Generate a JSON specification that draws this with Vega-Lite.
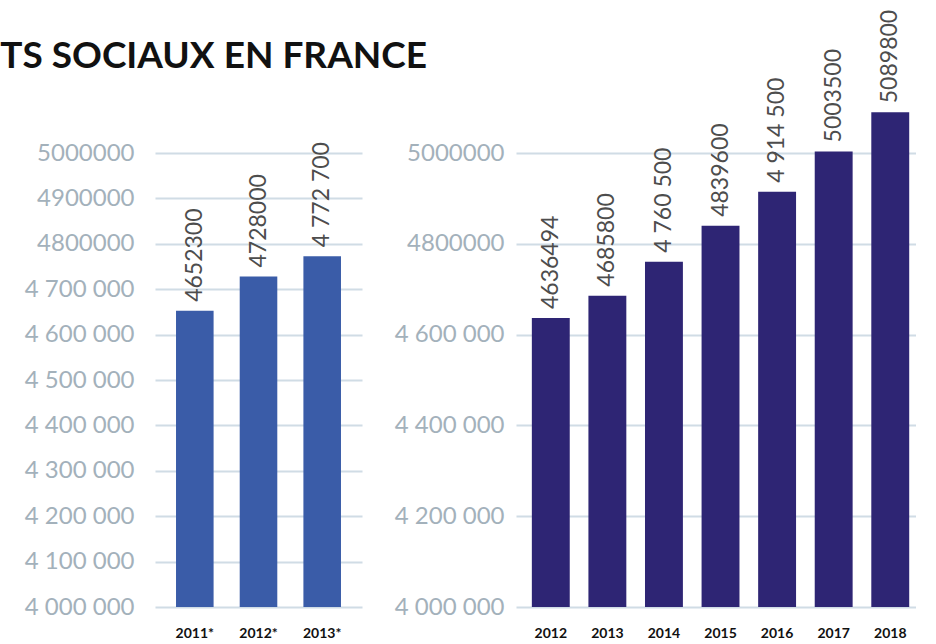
{
  "$schema": "https://vega.github.io/schema/vega-lite/v6.json",
  "background": "white",
  "padding": {"left": 0, "top": 9, "right": 0, "bottom": 0},
  "title": {
    "text": "TS SOCIAUX EN FRANCE",
    "anchor": "start",
    "font": "Lato",
    "fontSize": 37,
    "fontWeight": "bold",
    "color": "#111111",
    "dx": -24,
    "dy": 66,
    "offset": 0
  },
  "datasets": {
    "left": [
      {"year": "2011*", "value": 4652300, "label": "4652300"},
      {"year": "2012*", "value": 4728000, "label": "4728000"},
      {"year": "2013*", "value": 4772700, "label": "4 772 700"}
    ],
    "right": [
      {"year": "2012", "value": 4636494, "label": "4636494"},
      {"year": "2013", "value": 4685800, "label": "4685800"},
      {"year": "2014", "value": 4760500, "label": "4 760 500"},
      {"year": "2015", "value": 4839600, "label": "4839600"},
      {"year": "2016", "value": 4914500, "label": "4 914 500"},
      {"year": "2017", "value": 5003500, "label": "5003500"},
      {"year": "2018", "value": 5089800, "label": "5089800"}
    ]
  },
  "spacing": 154,
  "bounds": "flush",
  "config": {
    "view": {"stroke": null},
    "axis": {
      "domain": false,
      "ticks": false,
      "title": null
    },
    "axisX": {
      "labelFont": "Lato",
      "labelFontWeight": "bold",
      "labelFontSize": 14,
      "labelColor": "#111111",
      "labelPadding": 19,
      "labelAngle": 0,
      "grid": false
    },
    "axisY": {
      "labelFont": "Lato",
      "labelFontSize": 24,
      "labelColor": "#a3b1bb",
      "grid": true,
      "gridColor": "#a9bfd0",
      "gridOpacity": 0.55,
      "gridWidth": 2,
      "zindex": 1,
      "labelExpr": "datum.value >= 4800000 ? format(datum.value, 'd') : substring(format(datum.value, 'd'), 0, 1) + ' ' + substring(format(datum.value, 'd'), 1, 4) + ' ' + substring(format(datum.value, 'd'), 4, 7)"
    }
  },
  "hconcat": [
    {
      "data": {"name": "left"},
      "width": 207,
      "height": 454,
      "encoding": {
        "x": {
          "field": "year",
          "type": "nominal",
          "sort": null,
          "scale": {"paddingInner": 0.41, "paddingOuter": 0.33},
          "axis": {}
        },
        "y": {
          "field": "value",
          "type": "quantitative",
          "scale": {"domain": [4000000, 5000000], "nice": false, "zero": false},
          "axis": {"values": [4000000, 4100000, 4200000, 4300000, 4400000, 4500000, 4600000, 4700000, 4800000, 4900000, 5000000], "labelPadding": 21}
        }
      },
      "layer": [
        {
          "mark": {"type": "bar", "color": "#3a5ca8"},
          "encoding": {"y2": {"datum": 4000000}}
        },
        {
          "mark": {"type": "text", "angle": 270, "align": "left", "baseline": "middle", "dx": 9, "font": "Lato", "fontSize": 23, "color": "#4d4d4d"},
          "encoding": {"text": {"field": "label"}}
        }
      ]
    },
    {
      "data": {"name": "right"},
      "width": 400,
      "height": 454,
      "encoding": {
        "x": {
          "field": "year",
          "type": "nominal",
          "sort": null,
          "scale": {"paddingInner": 0.33, "paddingOuter": 0.2, "align": 0.7},
          "axis": {}
        },
        "y": {
          "field": "value",
          "type": "quantitative",
          "scale": {"domain": [4000000, 5000000], "nice": false, "zero": false},
          "axis": {"values": [4000000, 4200000, 4400000, 4600000, 4800000, 5000000], "labelPadding": 12}
        }
      },
      "layer": [
        {
          "mark": {"type": "bar", "color": "#2e2574"},
          "encoding": {"y2": {"datum": 4000000}}
        },
        {
          "mark": {"type": "text", "angle": 270, "align": "left", "baseline": "middle", "dx": 9, "font": "Lato", "fontSize": 23, "color": "#4d4d4d"},
          "encoding": {"text": {"field": "label"}}
        }
      ]
    }
  ]
}
